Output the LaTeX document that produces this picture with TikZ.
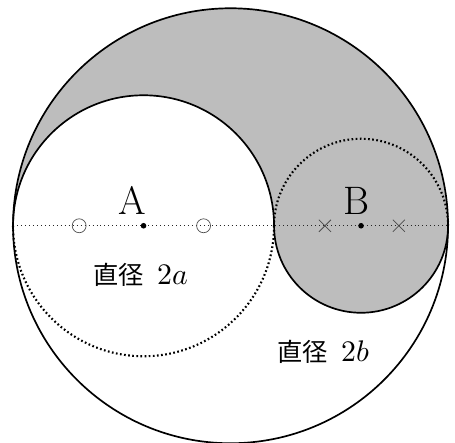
\documentclass[tikz,border=0pt]{standalone}
\usepackage{fontspec}
\usepackage{unicode-math}
\usepackage{tikz}
\usetikzlibrary{positioning,shapes.misc}
\newfontfamily\cjk{Noto Sans CJK JP}
\definecolor{shadegray}{HTML}{BDBDBD}
\newcommand{\diam}[1]{{\cjk\fontsize{16.5}{18}\selectfont 直径}\hspace{9pt}{\fontsize{19.5}{22}\selectfont$#1$}}

\begin{document}
\begin{tikzpicture}[
  solidArc/.style ={line width=1.1pt, color=black},
  dotArc/.style   ={line width=1.4pt, color=black, dash pattern=on 1.1pt off 1.6pt},
  axisL/.style    ={line width=0.6pt, color=black!85, dash pattern=on 0.6pt off 2pt},
  ctrDot/.style   ={circle, fill=black, inner sep=1.3pt},
  ringMk/.style   ={circle, draw=black!70, line width=0.45pt, minimum size=0.32cm, inner sep=0pt},
  crossMk/.style  ={cross out, draw=black!70, line width=0.5pt, minimum size=0.26cm, inner sep=0pt},
  bigLbl/.style   ={font=\fontsize{26}{28}\selectfont},
]
% R = a + b; big circle centred at origin, A left, B right
\def\bigR{5}
\def\ra{3}
\def\rb{2}
\useasboundingbox (-5.30,-4.99) rectangle (5.16,5.19);
% shaded region: top of big circle, lower half of B, upper half of A
\fill[shadegray] (-\bigR,0) arc[start angle=180, end angle=0, radius=\bigR]
  arc[start angle=0, end angle=-180, radius=\rb]
  arc[start angle=0, end angle=180, radius=\ra] -- cycle;
\coordinate (Lend) at (-\bigR,0);
\coordinate (Rend) at (\bigR,0);
\draw[axisL] (Lend) -- (Rend);
% outlines
\draw[solidArc] (0,0) circle[radius=\bigR];
\draw[solidArc] (1,0) arc[start angle=0, end angle=180, radius=\ra];
\draw[dotArc]   (1,0) arc[start angle=0, end angle=-180, radius=\ra];
\draw[solidArc] (5,0) arc[start angle=0, end angle=-180, radius=\rb];
\draw[dotArc]   (5,0) arc[start angle=0, end angle=180, radius=\rb];
% centres and marks
\node[ctrDot] (cA) at (-2,0) {};
\node[ctrDot] (cB) at (3,0) {};
\foreach \d/\nm in {-1.48/a1, 1.38/a2} {
  \node[ringMk] (\nm) at (-2+\d,0) {};
}
\foreach \d/\nm in {-0.83/b1, 0.87/b2} {
  \node[crossMk] (\nm) at (3+\d,0) {};
}
% labels
\node[bigLbl] (lA) at (-2.26,0.58) {A};
\node[bigLbl] (lB) at (2.90,0.58) {B};
\node (dA) at (-2.07,-1.13) {\diam{2a}};
\node (dB) at (2.13,-2.90) {\diam{2b}};
\end{tikzpicture}
\end{document}
